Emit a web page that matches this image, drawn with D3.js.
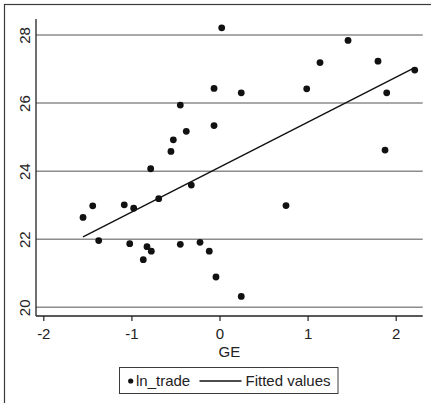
<!DOCTYPE html>
<html>
<head>
<meta charset="utf-8">
<script src="https://cdn.jsdelivr.net/npm/d3@7"></script>
<style>
  html, body { margin: 0; padding: 0; background: #fff; }
  svg { display: block; font-family: "Liberation Sans", Arial, sans-serif; }
</style>
</head>
<body>
<svg id="chart" width="431" height="403"></svg>
<script>
// Government effectiveness (GE) against log trade, one point per observation
const geValues = [-1.549, -1.439, -1.371, -1.081, -0.974, -1.019, -0.865, -0.823, -0.774, -0.781,
                  -0.690, -0.551, -0.524, -0.445, -0.445, -0.377, -0.320, -0.221, -0.116, -0.062,
                  -0.062, -0.040, 0.025, 0.247, 0.247, 0.755, 0.990, 1.141, 1.459, 1.799,
                  1.879, 1.898, 2.216];
const lnTrade  = [22.64, 22.98, 21.96, 23.01, 22.91, 21.87, 21.40, 21.78, 21.65, 24.07,
                  23.19, 24.58, 24.92, 25.94, 21.85, 25.17, 23.59, 21.91, 21.65, 26.43,
                  25.34, 20.89, 28.21, 26.30, 20.32, 22.99, 26.42, 27.19, 27.84, 27.23,
                  24.62, 26.30, 26.97];

// Fitted regression line, evaluated at the smallest and largest GE
const fitGE     = [-1.549, 2.216];
const fitValues = [22.07, 27.04];

const xTicks = [-2, -1, 0, 1, 2];
const yTicks = [20, 22, 24, 26, 28];
const legendLabels = ["ln_trade", "Fitted values"];

const svg = d3.select("#chart");

// outer graph frame (only top and left edges fall inside the view)
svg.append("rect")
  .attr("x", 4.5).attr("y", 4.5)
  .attr("width", 460).attr("height", 430)
  .attr("fill", "none").attr("stroke", "#3a3a3a").attr("stroke-width", 1.2);

const plot = { left: 36, right: 422.7, top: 19, bottom: 316 };

const x = d3.scaleLinear().domain([-2, 2]).range([43.3, 395.7]);
const y = d3.scaleLinear().domain([20, 28]).range([307.3, 35]);

// horizontal gridlines
svg.append("g").selectAll("line").data(yTicks).join("line")
  .attr("x1", plot.left).attr("x2", plot.right)
  .attr("y1", d => y(d)).attr("y2", d => y(d))
  .attr("stroke", "#8c8c8c").attr("stroke-width", 1.5);

// y axis
const yAxis = svg.append("g").attr("transform", `translate(${plot.left},0)`)
  .call(d3.axisLeft(y).tickValues(yTicks).tickSize(0).tickSizeOuter(0).tickFormat(d3.format("d")));
yAxis.select(".domain").remove();
yAxis.selectAll(".tick text").remove();
yAxis.selectAll(".tick").append("text")
  .attr("transform", "translate(-6,0) rotate(-90)")
  .attr("text-anchor", "middle")
  .attr("dy", 0)
  .attr("fill", "#222")
  .style("font-size", "15px")
  .text(d => d);
svg.append("line")
  .attr("x1", plot.left).attr("x2", plot.left)
  .attr("y1", plot.top).attr("y2", plot.bottom)
  .attr("stroke", "#222").attr("stroke-width", 1.3);

// x axis
const xAxis = svg.append("g").attr("transform", `translate(0,${plot.bottom})`)
  .call(d3.axisBottom(x).tickValues(xTicks).tickSize(5).tickSizeOuter(0).tickFormat(d3.format("d")));
xAxis.select(".domain").remove();
xAxis.selectAll(".tick line").attr("stroke", "#222").attr("stroke-width", 1.2);
xAxis.selectAll(".tick text")
  .attr("y", 9).attr("dy", "0.9em")
  .attr("fill", "#222")
  .style("font-size", "15px")
  .style("font-family", "'Liberation Sans', Arial, sans-serif")
  .text(d => d3.format("d")(d).replace("−", "-"));
svg.append("line")
  .attr("x1", plot.left).attr("x2", plot.right)
  .attr("y1", plot.bottom).attr("y2", plot.bottom)
  .attr("stroke", "#222").attr("stroke-width", 1.3);

// x axis title
svg.append("text")
  .attr("x", (plot.left + plot.right) / 2).attr("y", 357)
  .attr("text-anchor", "middle").attr("fill", "#222")
  .style("font-size", "15px")
  .text("GE");

// scatter points
const pts = geValues.map((g, i) => ({ g, t: lnTrade[i] }));
svg.append("g").selectAll("circle").data(pts).join("circle")
  .attr("cx", d => x(d.g)).attr("cy", d => y(d.t))
  .attr("r", 3.4).attr("fill", "#111");

// fitted line
const fit = fitGE.map((g, i) => [g, fitValues[i]]);
svg.append("path")
  .datum(fit)
  .attr("d", d3.line().x(d => x(d[0])).y(d => y(d[1])))
  .attr("fill", "none").attr("stroke", "#111").attr("stroke-width", 1.4);

// legend
const lg = svg.append("g");
lg.append("rect")
  .attr("x", 119.5).attr("y", 367.5).attr("width", 218.5).attr("height", 26)
  .attr("fill", "#fff").attr("stroke", "#3a3a3a").attr("stroke-width", 1);
lg.append("circle").attr("cx", 130.7).attr("cy", 381).attr("r", 2.6).attr("fill", "#111");
lg.append("text").attr("x", 136).attr("y", 386)
  .attr("fill", "#222").style("font-size", "15px").text(legendLabels[0]);
lg.append("line").attr("x1", 199.5).attr("x2", 241.5).attr("y1", 381).attr("y2", 381)
  .attr("stroke", "#111").attr("stroke-width", 1.3);
lg.append("text").attr("x", 245.5).attr("y", 386)
  .attr("fill", "#222").style("font-size", "15px").text(legendLabels[1]);
</script>
</body>
</html>
